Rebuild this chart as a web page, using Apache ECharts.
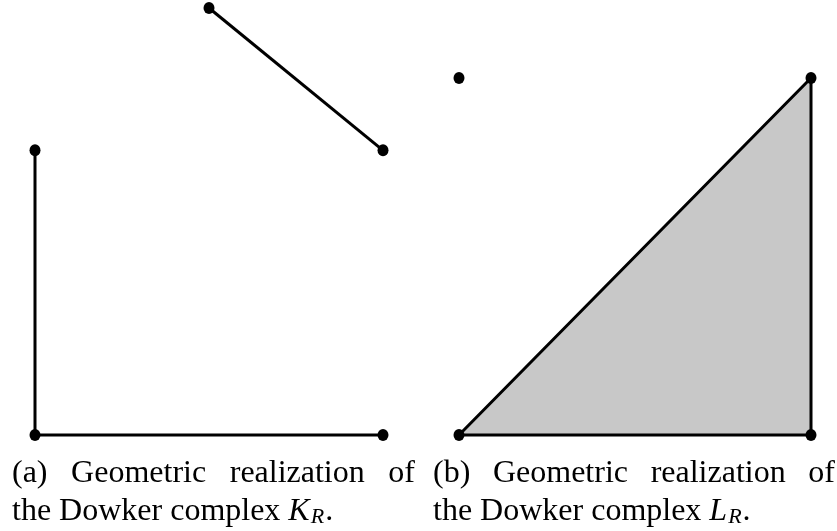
<!DOCTYPE html>
<html>
<head>
<meta charset="utf-8">
<title>Dowker complexes</title>
<script src="https://cdn.jsdelivr.net/npm/echarts@6/dist/echarts.min.js"></script>
</head>
<body style="margin:0;background:#fff">
<div id="main" style="width:837px;height:531px;"></div>
<script>
// complex K_R : vertices and edges
var kVertices = [[0, 0], [2, 0], [0, 2], [2, 2], [1, 3]];
var kEdges = [
  [[0, 2], [0, 0]],
  [[0, 0], [2, 0]],
  [[1, 3], [2, 2]]
];
// complex L_R : vertices and the filled 2-simplex
var lVertices = [[0, 0], [1, 0], [1, 1], [0, 1]];
var lTriangle = [[0, 0], [1, 0], [1, 1]];

var captionLabels = ['a', 'b'];
var captionSymbols = ['K', 'L'];

var FONT = "'Liberation Serif', 'DejaVu Serif', serif";
var FS = 32;
var ctx = document.createElement('canvas').getContext('2d');
function textWidth(t, size, italic) {
  ctx.font = (italic ? 'italic ' : '') + size + 'px ' + FONT;
  return ctx.measureText(t).width;
}
function txt(t, x, y, size, italic) {
  return {
    type: 'text', x: x, y: y, silent: true,
    style: {
      text: t, fill: '#000', fontFamily: FONT, fontSize: size,
      fontStyle: italic ? 'italic' : 'normal',
      align: 'left', verticalAlign: 'middle'
    }
  };
}
function caption(label, sym, x0, x1) {
  var out = [];
  var base1 = 483, base2 = 521, mid = 9;
  // first line is justified between x0 and x1
  var words = ['(' + label + ')', 'Geometric', 'realization', 'of'];
  var widths = words.map(function (w) { return textWidth(w, FS); });
  var total = widths.reduce(function (a, b) { return a + b; }, 0);
  var gap = (x1 - x0 - total) / (words.length - 1);
  var x = x0;
  words.forEach(function (w, i) {
    out.push(txt(w, x, base1 - mid, FS));
    x += widths[i] + gap;
  });
  // second line
  var t = 'the Dowker complex ';
  x = x0;
  out.push(txt(t, x, base2 - mid, FS));
  x += textWidth(t, FS);
  out.push(txt(sym, x, base2 - mid, FS, true));
  x += textWidth(sym, FS, true) + 1;
  out.push(txt('R', x, base2 - mid + 5, 22, true));
  x += textWidth('R', 22, true) + 1;
  out.push(txt('.', x, base2 - mid, FS));
  return out;
}

var chart = echarts.init(document.getElementById('main'));

function edgeSeries(edge) {
  return {
    type: 'line', xAxisIndex: 0, yAxisIndex: 0, data: edge,
    symbol: 'none', clip: false, silent: true,
    lineStyle: { color: '#000', width: 3 }
  };
}

var series = kEdges.map(edgeSeries);
series.push({
  type: 'custom', xAxisIndex: 1, yAxisIndex: 1, clip: false, silent: true,
  data: [0],
  renderItem: function (params, api) {
    return {
      type: 'polygon',
      shape: { points: lTriangle.map(function (p) { return api.coord(p); }) },
      style: { fill: '#c8c8c8', stroke: '#000', lineWidth: 3, lineJoin: 'round' }
    };
  }
});
var dotStyle = { color: '#000', opacity: 1 };
series.push({
  type: 'scatter', xAxisIndex: 0, yAxisIndex: 0, data: kVertices, clip: false,
  symbol: 'circle', symbolSize: [11, 12], itemStyle: dotStyle, silent: true, z: 3
});
series.push({
  type: 'scatter', xAxisIndex: 1, yAxisIndex: 1, data: lVertices, clip: false,
  symbol: 'circle', symbolSize: [11, 12], itemStyle: dotStyle, silent: true, z: 3
});

var option = {
  backgroundColor: '#fff',
  animation: false,
  grid: [
    { left: 35, top: 8, width: 348, height: 427 },
    { left: 459, top: 78, width: 352, height: 357 }
  ],
  xAxis: [
    { type: 'value', gridIndex: 0, min: 0, max: 2, show: false },
    { type: 'value', gridIndex: 1, min: 0, max: 1, show: false }
  ],
  yAxis: [
    { type: 'value', gridIndex: 0, min: 0, max: 3, show: false },
    { type: 'value', gridIndex: 1, min: 0, max: 1, show: false }
  ],
  graphic: caption(captionLabels[0], captionSymbols[0], 12, 415)
    .concat(caption(captionLabels[1], captionSymbols[1], 433, 835)),
  series: series
};
chart.setOption(option);
</script>
</body>
</html>
